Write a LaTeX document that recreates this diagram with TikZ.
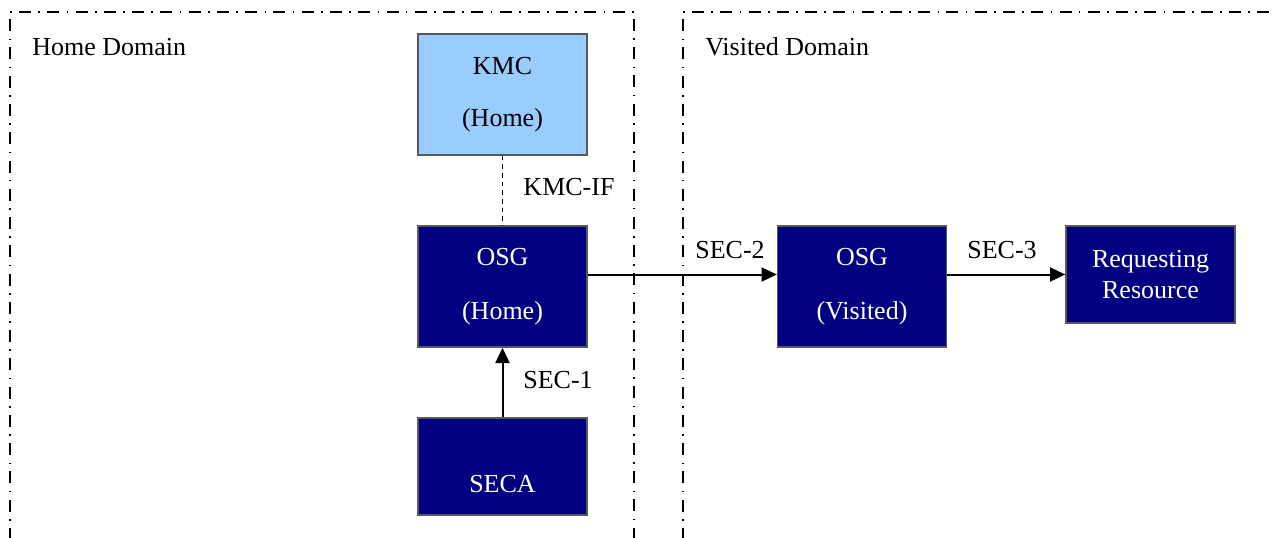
\documentclass[tikz,border=0pt]{standalone}
\usepackage{fontspec}
\setmainfont{Liberation Serif}
\usetikzlibrary{arrows.meta}

\definecolor{kmcblue}{HTML}{99CCFF}
\definecolor{osgnavy}{HTML}{000080}

\begin{document}
\begin{tikzpicture}[x=0.75pt, y=-0.75pt,
    font=\fontsize{19.5}{23}\selectfont,
    box/.style={draw=black!65, line width=1pt, minimum width=126.75pt, inner sep=0pt, align=center},
    darkbox/.style={box, fill=osgnavy, text=white},
    domainline/.style={line width=1.1pt, dash pattern=on 9pt off 5.5pt on 1.2pt off 5.5pt},
    link/.style={line width=1.5pt, -{Triangle[length=11.5pt, width=10.5pt]}},
    lbl/.style={inner sep=0pt}]
    \useasboundingbox (0,0) rectangle (1274,537);
    \clip (0,0) rectangle (1274,537);

    % domains
    \draw[domainline] (10,540) -- (10,12) -- (634,12) -- (634,540);
    \draw[domainline] (683,540) -- (683,12) -- (1280,12);
    \node[lbl, anchor=west] (homelbl) at (32,47) {Home Domain};
    \node[lbl, anchor=west] (visitlbl) at (705,47) {Visited Domain};

    % boxes
    \node[box, fill=kmcblue, minimum height=90.75pt] (kmc) at (502.5,94.5) {KMC\\[16pt](Home)};
    \node[darkbox, minimum height=90.75pt] (osgh) at (502.5,286.5) {OSG\\[17pt](Home)};
    \node[darkbox, minimum height=72.75pt, label={[lbl, text=white, yshift=-13pt]center:SECA}] (seca) at (502.5,466.5) {};
    \node[darkbox, minimum height=90.75pt] (osgv) at (862,286.5) {OSG\\[17pt](Visited)};
    \node[darkbox, minimum height=72.75pt] (rr) at (1150.5,274.5) {Requesting\\Resource};

    % connectors
    \draw[line width=1.2pt, dash pattern=on 3.5pt off 3pt] (kmc) -- (osgh);
    \draw[link] (seca) -- (osgh);
    \draw[link] (osgh.east |- rr.west) -- (osgv.west |- rr.west);
    \draw[link] (osgv.east |- rr.west) -- (rr.west);

    \node[lbl] (kmcif) at (569,187) {KMC-IF};
    \node[lbl] (sec1) at (558,380) {SEC-1};
    \node[lbl] (sec2) at (730,250) {SEC-2};
    \node[lbl] (sec3) at (1002,250) {SEC-3};
\end{tikzpicture}
\end{document}
